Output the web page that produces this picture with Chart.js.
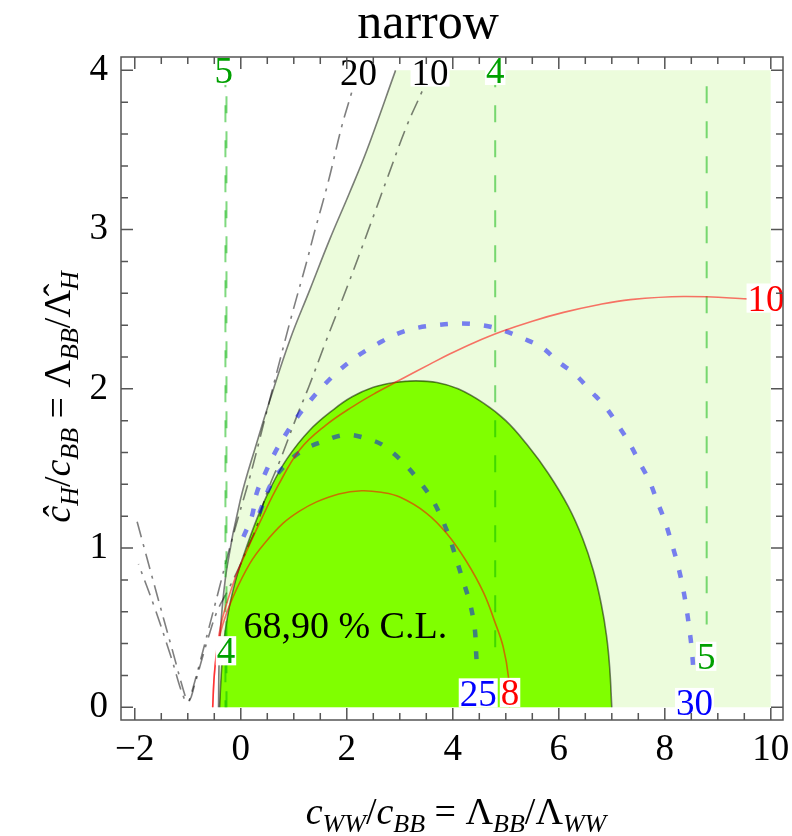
<!DOCTYPE html>
<html>
<head>
<meta charset="utf-8">
<script src="https://cdn.jsdelivr.net/npm/chart.js@4.4.1/dist/chart.umd.min.js"></script>
<style>
  html, body { margin: 0; padding: 0; background: #fff; }
</style>
</head>
<body>
<canvas id="chart1" width="792" height="836"></canvas>
<script>
// axis ticks
const xTicks = [-2, 0, 2, 4, 6, 8, 10];
const xTickLabels = ['\u22122', '0', '2', '4', '6', '8', '10'];
const yTicks = [0, 1, 2, 3, 4];
const yTickLabels = ['0', '1', '2', '3', '4'];

// 90% C.L. region: left edge, then the flat top out to x = 10
const cl90Edge = [[-0.42,0],[-0.41,0.28],[-0.38,0.51],[-0.26,0.88],[-0.01,1.30],[0.30,1.66],[0.55,1.93],[0.93,2.31],[1.30,2.62],[1.68,2.94],[2.05,3.23],[2.38,3.50],[2.92,4.0]];
const cl90Corner = [[10,4]];

// 68% C.L. region
const cl68 = [[-0.40,0],[-0.37,0.20],[-0.33,0.38],[-0.25,0.57],[-0.12,0.77],[0.05,0.95],[0.30,1.18],[0.55,1.37],[0.87,1.56],[1.30,1.74],[1.75,1.87],[2.10,1.95],[2.50,2.01],[2.90,2.04],[3.30,2.05],[3.70,2.04],[4.10,2.00],[4.58,1.91],[5.00,1.80],[5.40,1.65],[5.80,1.47],[6.18,1.26],[6.45,1.06],[6.65,0.86],[6.80,0.65],[6.90,0.45],[6.96,0.25],[7.00,0]];

// red contours (8 and 10)
const red8 = [[-0.53,0],[-0.50,0.20],[-0.44,0.37],[-0.34,0.52],[-0.15,0.69],[0.175,0.905],[0.45,1.03],[0.80,1.156],[1.10,1.23],[1.43,1.29],[1.85,1.34],[2.28,1.36],[2.65,1.35],[3.0,1.32],[3.50,1.22],[3.89,1.09],[4.25,0.92],[4.58,0.72],[4.80,0.53],[4.95,0.38],[5.05,0.19],[5.07,0]];
const red10 = [[-0.53,0],[-0.50,0.20],[-0.45,0.37],[-0.36,0.54],[-0.22,0.70],[-0.05,0.86],[0.15,1.01],[0.40,1.19],[0.70,1.39],[1.12,1.62],[1.60,1.77],[2.12,1.89],[2.55,1.975],[3.0,2.055],[3.57,2.155],[3.95,2.22],[4.40,2.29],[4.92,2.36],[5.50,2.425],[6.09,2.48],[6.70,2.525],[7.35,2.56],[8.35,2.58],[9.55,2.565],[10.1,2.55]];

// blue dotted contours (25 and 30)
const blue25 = [[0.35,1.22],[0.60,1.42],[0.87,1.53],[1.15,1.61],[1.56,1.67],[1.97,1.71],[2.35,1.69],[2.75,1.63],[3.32,1.44],[3.76,1.21],[4.17,0.82],[4.39,0.55],[4.45,0.29]];
const blue30 = [[0.05,1.07],[0.21,1.20],[0.30,1.345],[0.46,1.47],[0.63,1.59],[0.84,1.71],[1.06,1.82],[1.32,1.93],[1.59,2.03],[1.87,2.12],[2.22,2.21],[2.57,2.28],[2.91,2.34],[3.29,2.38],[3.70,2.40],[4.12,2.41],[4.55,2.40],[4.92,2.37],[5.30,2.32],[5.68,2.26],[5.99,2.17],[6.31,2.09],[6.59,1.99],[6.87,1.89],[7.12,1.77],[7.33,1.66],[7.52,1.54],[7.71,1.42],[7.86,1.29],[8.0,1.17],[8.13,1.03],[8.24,0.90],[8.33,0.77],[8.40,0.64],[8.46,0.50],[8.51,0.36],[8.54,0.23]];

// gray dash-dot contours (20 and 10)
const gray20 = [[2.20,4.0],[2.09,3.86],[1.906,3.65],[1.65,3.30],[1.37,2.96],[1.245,2.80],[0.96,2.46],[0.70,2.13],[0.43,1.78],[0.175,1.45],[-0.05,1.19],[-0.25,0.95],[-0.42,0.73],[-0.60,0.50],[-0.78,0.27],[-0.92,0.10],[-0.98,0.04],[-1.02,0.04],[-1.30,0.37],[-1.60,0.73],[-1.96,1.17]];
const gray10 = [[3.59,4.0],[3.41,3.86],[3.13,3.65],[2.75,3.31],[2.41,3.0],[2.03,2.66],[1.62,2.31],[1.28,2.01],[1.06,1.83],[0.74,1.55],[0.49,1.345],[0.30,1.135],[0.14,1.01],[-0.045,0.87],[-0.25,0.73],[-0.45,0.60],[-0.62,0.43],[-0.76,0.27],[-0.88,0.13],[-0.97,0.04],[-1.05,0.04],[-1.32,0.32],[-1.62,0.62],[-1.93,0.90]];

// green dashed contours (4 and 5)
const green5Left = [[-0.29,4.0],[-0.29,0]];
const green4Left = [[-0.27,4.0],[-0.27,0]];
const green4Right = [[4.80,4.0],[4.80,0.35]];
const green5Right = [[8.79,3.90],[8.79,0.52]];

// contour level labels
const contourLabels = [
  { text: '5',  color: '#00a000', x: -0.32, y: 4.0 },
  { text: '20', color: '#000000', x: 2.22,  y: 3.99 },
  { text: '10', color: '#000000', x: 3.57,  y: 3.99 },
  { text: '4',  color: '#00a000', x: 4.80,  y: 4.0 },
  { text: '10', color: '#ff0000', x: 9.91,  y: 2.57 },
  { text: '4',  color: '#00a000', x: -0.28, y: 0.355 },
  { text: '25', color: '#0000ff', x: 4.48,  y: 0.09 },
  { text: '8',  color: '#ff0000', x: 5.08,  y: 0.093 },
  { text: '5',  color: '#00a000', x: 8.78,  y: 0.32 },
  { text: '30', color: '#0000ff', x: 8.56,  y: 0.03 }
];

const pts = a => a.map(p => ({ x: p[0], y: p[1] }));
const SERIF = '"Liberation Serif", "Times New Roman", serif';

function curve(data, color, width, dash, extra) {
  return Object.assign({
    data: pts(data),
    borderColor: color,
    borderWidth: width,
    borderDash: dash || [],
    pointRadius: 0,
    fill: false,
    tension: 0.4,
    order: 1
  }, extra || {});
}

// text made of runs with their own size, slant and baseline shift
function richText(ctx, runs, x, y) {
  let total = 0;
  runs.forEach(r => {
    ctx.font = (r.it ? 'italic ' : '') + r.size + 'px ' + SERIF;
    r.w = ctx.measureText(r.t).width;
    total += r.w;
  });
  let cx = x - total / 2;
  ctx.textAlign = 'left';
  ctx.textBaseline = 'alphabetic';
  runs.forEach(r => {
    ctx.font = (r.it ? 'italic ' : '') + r.size + 'px ' + SERIF;
    ctx.fillText(r.t, cx, y + (r.dy || 0));
    cx += r.w;
  });
}

const decorations = {
  id: 'decorations',
  afterDatasetsDraw(chart) {
    const ctx = chart.ctx;
    const xs = chart.scales.x, ys = chart.scales.y;
    ctx.save();

    // contour labels on white boxes
    const size = 37;
    ctx.font = size + 'px ' + SERIF;
    contourLabels.forEach(l => {
      const px = xs.getPixelForValue(l.x);
      const py = ys.getPixelForValue(l.y);
      const w = ctx.measureText(l.text).width;
      const h = size * 0.68;
      ctx.fillStyle = '#fff';
      ctx.fillRect(px - w / 2 - 1, py - h / 2 - 2, w + 2, h + 4);
      ctx.fillStyle = l.color;
      ctx.textAlign = 'center';
      ctx.textBaseline = 'alphabetic';
      ctx.fillText(l.text, px, py + h / 2);
    });

    // confidence level note
    ctx.fillStyle = '#000';
    ctx.font = '38px ' + SERIF;
    ctx.textAlign = 'left';
    ctx.fillText('68,90 % C.L.', xs.getPixelForValue(0.05), ys.getPixelForValue(0.435));

    // frame with inward ticks on all four sides
    const a = chart.chartArea;
    ctx.strokeStyle = '#555';
    ctx.lineWidth = 1.5;
    ctx.strokeRect(a.left, a.top, a.right - a.left, a.bottom - a.top);
    ctx.beginPath();
    for (let v = -2; v <= 10.001; v += 0.5) {
      const px = xs.getPixelForValue(v);
      const len = Math.abs(v / 2 - Math.round(v / 2)) < 1e-6 ? 12 : 7;
      ctx.moveTo(px, a.bottom); ctx.lineTo(px, a.bottom - len);
      ctx.moveTo(px, a.top); ctx.lineTo(px, a.top + len);
    }
    for (let v = 0; v <= 4.001; v += 0.2) {
      const py = ys.getPixelForValue(v);
      const len = Math.abs(v - Math.round(v)) < 1e-6 ? 12 : 7;
      ctx.moveTo(a.left, py); ctx.lineTo(a.left + len, py);
      ctx.moveTo(a.right, py); ctx.lineTo(a.right - len, py);
    }
    ctx.stroke();

    // title and axis titles
    ctx.fillStyle = '#000';
    ctx.font = '50px ' + SERIF;
    ctx.textAlign = 'center';
    ctx.fillText('narrow', 428, 38);

    const big = 38, sub = 26, d = 8;
    richText(ctx, [
      { t: 'c', it: 1, size: big }, { t: 'WW', it: 1, size: sub, dy: d },
      { t: '/', size: big },
      { t: 'c', it: 1, size: big }, { t: 'BB', it: 1, size: sub, dy: d },
      { t: ' = \u039B', size: big }, { t: 'BB', it: 1, size: sub, dy: d },
      { t: '/\u039B', size: big }, { t: 'WW', it: 1, size: sub, dy: d }
    ], 456, 824);

    ctx.translate(70, 397);
    ctx.rotate(-Math.PI / 2);
    richText(ctx, [
      { t: '\u0109', it: 1, size: big }, { t: 'H', it: 1, size: sub, dy: d },
      { t: '/', size: big },
      { t: 'c', it: 1, size: big }, { t: 'BB', it: 1, size: sub, dy: d },
      { t: ' = \u039B', size: big }, { t: 'BB', it: 1, size: sub, dy: d },
      { t: '/\u039B\u0302', size: big }, { t: 'H', it: 1, size: sub, dy: d }
    ], 0, 0);
    ctx.restore();
  }
};

const straight = { tension: 0 };
const chart1 = document.getElementById('chart1').getContext('2d');
new Chart(chart1, {
  type: 'line',
  data: {
    datasets: [
      curve(red10, 'rgba(255,0,0,0.55)', 1.6),
      curve(red8, 'rgba(255,0,0,0.55)', 1.6),
      curve(blue25, 'rgba(0,0,255,0.5)', 4.5, [8, 14]),
      curve(blue30, 'rgba(0,0,255,0.5)', 4.5, [8, 14]),
      curve(green4Right, 'rgba(0,180,0,0.5)', 2, [17, 18], straight),
      curve(green5Right, 'rgba(0,180,0,0.5)', 2, [17, 18], straight),
      curve(green5Left, 'rgba(0,180,0,0.5)', 2, [17, 18], straight),
      curve(green4Left, 'rgba(0,180,0,0.5)', 2, [17, 18], { tension: 0, borderDashOffset: 9 }),
      curve(gray20, 'rgba(0,0,0,0.5)', 1.6, [16, 7, 3, 7]),
      curve(gray10, 'rgba(0,0,0,0.5)', 1.6, [16, 7, 3, 7]),
      curve(cl90Edge, 'rgba(0,0,0,0.5)', 1.6, [], { order: 2 }),
      curve(cl68, 'rgba(0,0,0,0.5)', 1.6, [], { fill: 'origin', backgroundColor: '#80ff00', order: 3 }),
      curve(cl90Edge.concat(cl90Corner), 'rgba(0,0,0,0)', 0, [], { fill: 'origin', backgroundColor: '#ecfcdc', tension: 0, order: 4 })
    ]
  },
  options: {
    responsive: false,
    animation: false,
    layout: { padding: { top: 57, right: 9, left: 0, bottom: 0 } },
    plugins: {
      legend: { display: false },
      tooltip: { enabled: false },
      title: { display: false }
    },
    scales: {
      x: {
        type: 'linear',
        min: -2.26,
        max: 10.23,
        afterBuildTicks: s => { s.ticks = xTicks.map(v => ({ value: v })); },
        afterFit: s => { s.height = 116; s.paddingLeft = 0; s.paddingRight = 0; },
        grid: { display: false, drawTicks: false },
        border: { display: false },
        ticks: {
          padding: 8,
          maxRotation: 0,
          color: '#000',
          font: { family: SERIF, size: 37 },
          callback: (v, i) => xTickLabels[i]
        }
      },
      y: {
        type: 'linear',
        min: -0.08,
        max: 4.084,
        afterBuildTicks: s => { s.ticks = yTicks.map(v => ({ value: v })); },
        afterFit: s => { s.width = 121; s.paddingTop = 0; s.paddingBottom = 0; },
        grid: { display: false, drawTicks: false },
        border: { display: false },
        ticks: {
          padding: 13,
          color: '#000',
          font: { family: SERIF, size: 37 },
          callback: (v, i) => yTickLabels[i]
        }
      }
    }
  },
  plugins: [decorations]
});
</script>
</body>
</html>
